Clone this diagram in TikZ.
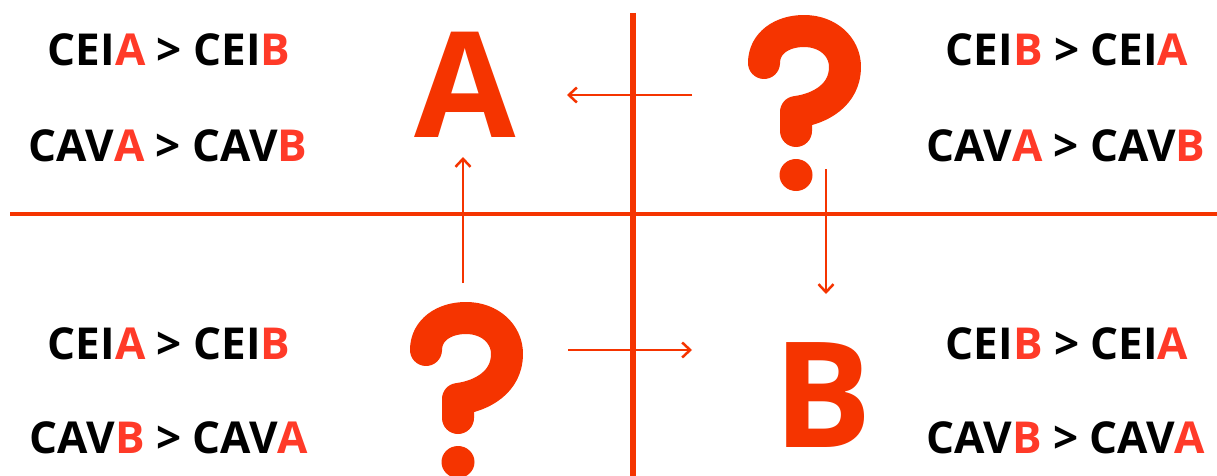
\documentclass[tikz,border=0pt]{standalone}
\usepackage{fontspec}
\setmainfont{Open Sans}
\usetikzlibrary{arrows.meta}
\definecolor{shapered}{RGB}{245,52,0}
\definecolor{textred}{RGB}{255,58,40}
\newcommand{\rA}{\textcolor{textred}{A}}
\newcommand{\rB}{\textcolor{textred}{B}}
\tikzset{
  rowtext/.style={anchor=base, inner sep=0pt, text=black, font=\fontsize{44}{50}\selectfont\bfseries},
  bigletter/.style={anchor=base, inner sep=0pt, text depth=0pt, text=shapered, font=\fontsize{147}{160}\selectfont\bfseries},
  axisline/.style={draw=shapered},
  conn/.style={draw=shapered, line width=2.5pt, -{Straight Barb[length=8pt,width=15pt,line width=2.5pt]}},
  qmark/.pic={
    \draw[shapered, line width=32pt, line cap=round, line join=round]
      (16,48) .. controls (16,28) and (34,16) .. (56,16)
      .. controls (80,16) and (97,32) .. (97,52)
      .. controls (97,80) and (72,94) .. (48,97) -- (48,116);
    \fill[shapered] (48,160) ellipse [x radius=16.5, y radius=16];
  }
}
\begin{document}
\begin{tikzpicture}[x=1pt,y=-1pt]
\useasboundingbox (0,0) rectangle (1217,476);
\clip (0,0) rectangle (1217,476);
\fill[white] (0,0) rectangle (1217,476);
% axes
\draw[axisline, line width=4pt] (10,214) -- (1217,214);
\draw[axisline, line width=6pt] (632.5,13) -- (632.5,476);
% big letters and question marks
\node[bigletter] (bigA) at (465,137) {A};
\node[bigletter] (bigB) at (823,447) {B};
\pic (q1) at (748,15) {qmark};
\pic (q2) at (410,302) {qmark};
% arrow end points
\coordinate (l1) at (692,95);
\coordinate (l2) at (567,95);
\coordinate (u1) at (463,283);
\coordinate (u2) at (463,157);
\coordinate (d1) at (826,169);
\coordinate (d2) at (826,294);
\coordinate (r1) at (568,350);
\coordinate (r2) at (692,350);
\draw[conn] (l1) -- (l2);
\draw[conn] (u1) -- (u2);
\draw[conn] (d1) -- (d2);
\draw[conn] (r1) -- (r2);
% texts
\node[rowtext] (t1) at (169,66) {CEI\rA{} > CEI\rB};
\node[rowtext] (t2) at (168,161) {CAV\rA{} > CAV\rB};
\node[rowtext] (t3) at (1067,66) {CEI\rB{} > CEI\rA};
\node[rowtext] (t4) at (1066,161) {CAV\rA{} > CAV\rB};
\node[rowtext] (t5) at (169,359) {CEI\rA{} > CEI\rB};
\node[rowtext] (t6) at (169,453) {CAV\rB{} > CAV\rA};
\node[rowtext] (t7) at (1067,359) {CEI\rB{} > CEI\rA};
\node[rowtext] (t8) at (1066,453) {CAV\rB{} > CAV\rA};
\end{tikzpicture}
\end{document}
